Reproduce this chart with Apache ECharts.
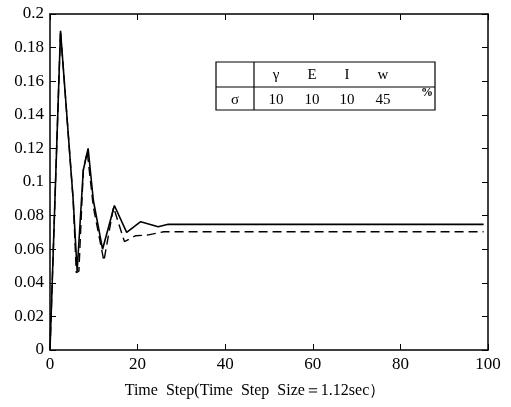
<!DOCTYPE html>
<html>
<head>
<meta charset="utf-8">
<script src="https://cdn.jsdelivr.net/npm/echarts@6/dist/echarts.min.js"></script>
<style>
  html, body { margin: 0; padding: 0; background: #fff; }
  #chart { width: 511px; height: 407px; }
</style>
</head>
<body>
<div id="chart"></div>
<script>
// time step vs. value
const solidSteps = [0, 2.4, 5.3, 6.2, 6.6, 7.6, 8.7, 9.9, 12.0, 14.7, 17.5, 20.7, 24.7, 27, 99];
const solidValues = [0, 0.19, 0.089, 0.047, 0.047, 0.107, 0.12, 0.089, 0.06, 0.086, 0.07, 0.0764, 0.0734, 0.0748, 0.0748];

const dashSteps = [0, 2.4, 5.3, 6.0, 6.6, 7.6, 8.5, 9.9, 12.3, 14.5, 17.0, 19.5, 22.5, 26, 99];
const dashValues = [0, 0.19, 0.089, 0.046, 0.047, 0.107, 0.118, 0.085, 0.053, 0.085, 0.0645, 0.068, 0.0685, 0.0704, 0.0704];

const xTicks = [0, 20, 40, 60, 80, 100];
const yTicks = [0, 0.02, 0.04, 0.06, 0.08, 0.1, 0.12, 0.14, 0.16, 0.18, 0.2];

// table in the corner
const tableHead = ["γ", "E", "I", "w"];
const tableRow = ["10", "10", "10", "45"];

const font = '"Liberation Serif", "DejaVu Serif", serif';

function pairs(xs, ys) {
  return xs.map((x, i) => [x, ys[i]]);
}

const chart = echarts.init(document.getElementById("chart"), null, { renderer: "canvas" });

function axisLine() {
  return { show: true, onZero: false, lineStyle: { color: "#000", width: 1.5 } };
}
function tick() {
  return { show: true, inside: true, length: 6, lineStyle: { color: "#000", width: 1 } };
}

// table graphic (annotation only)
const cols = [276, 312, 347, 383];
const tbl = [
  { type: "rect", shape: { x: 216, y: 62, width: 219, height: 48 },
    style: { fill: "#fff", stroke: "#000", lineWidth: 1.2 } },
  { type: "line", shape: { x1: 254, y1: 62, x2: 254, y2: 110 }, style: { stroke: "#000", lineWidth: 1.2 } },
  { type: "line", shape: { x1: 216, y1: 87, x2: 435, y2: 87 }, style: { stroke: "#000", lineWidth: 1.2 } },
  { type: "text", x: 235, y: 100, style: { text: "σ", font: "15px " + font, fill: "#000", align: "center", verticalAlign: "middle" } },
  { type: "text", x: 427, y: 93, style: { text: "%", font: "bold 12px " + font, fill: "#000", align: "center", verticalAlign: "middle" } }
];
tableHead.forEach((t, i) => {
  tbl.push({ type: "text", x: cols[i], y: 75, style: { text: t, font: "15px " + font, fill: "#000", align: "center", verticalAlign: "middle" } });
});
tableRow.forEach((t, i) => {
  tbl.push({ type: "text", x: cols[i], y: 100, style: { text: t, font: "15px " + font, fill: "#000", align: "center", verticalAlign: "middle" } });
});

chart.setOption({
  animation: false,
  backgroundColor: "#fff",
  grid: { left: 50, right: 23, top: 14, bottom: 57, containLabel: false },
  xAxis: [
    {
      type: "value", min: 0, max: 100, interval: 20,
      axisLine: axisLine(), axisTick: tick(), splitLine: { show: false },
      axisLabel: { color: "#000", fontFamily: font, fontSize: 17, margin: 6 },
      name: "Time  Step(Time  Step  Size＝1.12sec）",
      nameLocation: "middle", nameGap: 33,
      nameTextStyle: { color: "#000", fontFamily: font, fontSize: 16, padding: [0, 28, 0, 0] }
    },
    {
      type: "value", position: "top", min: 0, max: 100, interval: 20,
      axisLine: axisLine(), axisTick: tick(), axisLabel: { show: false }, splitLine: { show: false }
    }
  ],
  yAxis: [
    {
      type: "value", min: 0, max: 0.2, interval: 0.02,
      axisLine: axisLine(), axisTick: tick(), splitLine: { show: false },
      axisLabel: {
        color: "#000", fontFamily: font, fontSize: 17, margin: 6,
        formatter: v => String(+v.toFixed(2))
      }
    },
    {
      type: "value", position: "right", min: 0, max: 0.2, interval: 0.02,
      axisLine: axisLine(), axisTick: tick(), axisLabel: { show: false }, splitLine: { show: false }
    }
  ],
  series: [
    {
      type: "line", data: pairs(solidSteps, solidValues), showSymbol: false,
      lineStyle: { color: "#000", width: 1.6 }
    },
    {
      type: "line", data: pairs(dashSteps, dashValues), showSymbol: false,
      lineStyle: { color: "#000", width: 1.4, type: [9, 5] }
    }
  ],
  graphic: tbl
});
</script>
</body>
</html>
